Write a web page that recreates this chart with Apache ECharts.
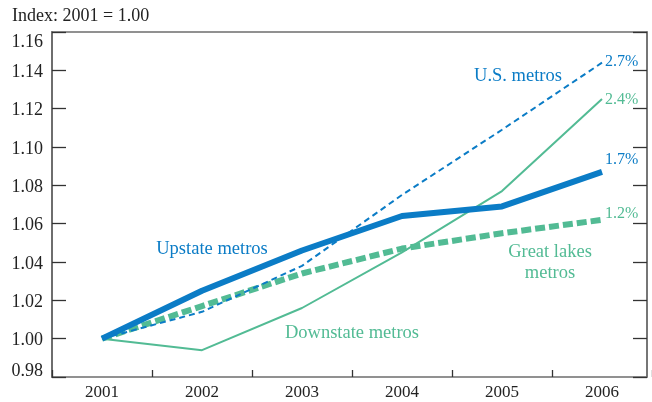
<!DOCTYPE html>
<html>
<head>
<meta charset="utf-8">
<script src="https://cdn.jsdelivr.net/npm/echarts@6/dist/echarts.min.js"></script>
<style>
html,body{margin:0;padding:0;background:#fff;}
#chart{width:652px;height:402px;}
</style>
</head>
<body>
<div id="chart"></div>
<script>
const years = ['2001','2002','2003','2004','2005','2006'];
const usMetros = [1.000, 1.014, 1.038, 1.075, 1.109, 1.144];
const upstateMetros = [1.000, 1.025, 1.046, 1.064, 1.069, 1.087];
const downstateMetros = [1.000, 0.994, 1.016, 1.045, 1.077, 1.125];
const greatLakesMetros = [1.000, 1.017, 1.034, 1.047, 1.055, 1.062];
const growthLabels = {us:'2.7%', downstate:'2.4%', upstate:'1.7%', greatLakes:'1.2%'};
const yTicks = [0.98, 1.00, 1.02, 1.04, 1.06, 1.08, 1.10, 1.12, 1.14, 1.16];

const BLUE = '#0b7cc6';
const GREEN = '#52bb94';
const FONT = '"Liberation Serif", "DejaVu Serif", serif';
const yMin = yTicks[0], yMax = yTicks[yTicks.length-1];

const chart = echarts.init(document.getElementById('chart'), null, {renderer:'canvas'});

function endLbl(text, color, offset){
  return {show:true, formatter:text, color:color, fontFamily:FONT, fontSize:16, distance:3, offset:offset};
}

const option = {
  backgroundColor:'#fff',
  animation:false,
  grid:[
    {left:52, top:32, right:5, bottom:25, show:true, borderColor:'#6e6e6e', borderWidth:1.5, containLabel:false},
    {left:52, top:32, width:600, bottom:25, containLabel:false}
  ],
  xAxis:[
    {gridIndex:0, type:'value', min:0, max:1, show:false},
    {gridIndex:1, type:'category', data:years, boundaryGap:true,
     axisLine:{show:false},
     axisTick:{show:true, inside:true, length:7, lineStyle:{color:'#333', width:1.3}},
     axisLabel:{color:'#222', fontFamily:FONT, fontSize:17, margin:7},
     splitLine:{show:false}}
  ],
  yAxis:[
    {gridIndex:0, type:'value', min:yMin, max:yMax, interval:0.02,
     axisLine:{show:true, lineStyle:{color:'#6e6e6e', width:2}},
     axisTick:{show:true, inside:true, length:14, lineStyle:{color:'#333', width:1.3}},
     axisLabel:{color:'#222', fontFamily:FONT, fontSize:18, margin:9,
       formatter:function(v){
         const s = v.toFixed(2);
         if (Math.abs(v-yMax)<1e-6) return '{top|'+s+'}';
         if (Math.abs(v-yMin)<1e-6) return '{bot|'+s+'}';
         return '{mid|'+s+'}';
       },
       rich:{
         top:{fontFamily:FONT, fontSize:18, color:'#222', padding:[20,0,0,0]},
         mid:{fontFamily:FONT, fontSize:18, color:'#222', padding:[4,0,0,0]},
         bot:{fontFamily:FONT, fontSize:18, color:'#222', padding:[0,0,12,0]}
       }},
     splitLine:{show:false}},
    {gridIndex:0, type:'value', position:'right', min:yMin, max:yMax, interval:0.02,
     axisLine:{show:true, lineStyle:{color:'#6e6e6e', width:1.5}},
     axisTick:{show:true, inside:true, length:14, lineStyle:{color:'#333', width:1.3}},
     axisLabel:{show:false}, splitLine:{show:false}},
    {gridIndex:1, type:'value', min:yMin, max:yMax, show:false}
  ],
  series:[
    {name:'Great lakes metros', type:'line', xAxisIndex:1, yAxisIndex:2, data:greatLakesMetros,
     symbol:'none', lineStyle:{color:GREEN, width:6, type:[10,4]},
     endLabel:endLbl(growthLabels.greatLakes, GREEN, [0,-6]), z:2},
    {name:'U.S. metros', type:'line', xAxisIndex:1, yAxisIndex:2, data:usMetros,
     symbol:'none', lineStyle:{color:BLUE, width:2, type:[6,4]},
     endLabel:endLbl(growthLabels.us, BLUE, [0,-1]), z:3},
    {name:'Downstate metros', type:'line', xAxisIndex:1, yAxisIndex:2, data:downstateMetros,
     symbol:'none', lineStyle:{color:GREEN, width:2},
     endLabel:endLbl(growthLabels.downstate, GREEN, [0,1]), z:4},
    {name:'Upstate metros', type:'line', xAxisIndex:1, yAxisIndex:2, data:upstateMetros,
     symbol:'none', lineStyle:{color:BLUE, width:6},
     endLabel:endLbl(growthLabels.upstate, BLUE, [0,-12]), z:5}
  ],
  graphic:[
    {type:'text', left:12, top:7, style:{text:'Index: 2001 = 1.00', fill:'#222', font:'18px '+FONT}},
    {type:'text', x:518, y:76, style:{text:'U.S. metros', fill:BLUE, font:'18.5px '+FONT, align:'center', verticalAlign:'middle'}},
    {type:'text', x:212, y:249, style:{text:'Upstate metros', fill:BLUE, font:'18.5px '+FONT, align:'center', verticalAlign:'middle'}},
    {type:'text', x:352, y:333, style:{text:'Downstate metros', fill:GREEN, font:'18.5px '+FONT, align:'center', verticalAlign:'middle'}},
    {type:'text', x:550, y:263, style:{text:'Great lakes\nmetros', fill:GREEN, font:'18.5px '+FONT, align:'center', verticalAlign:'middle', lineHeight:21}}
  ]
};
chart.setOption(option);
</script>
</body>
</html>
